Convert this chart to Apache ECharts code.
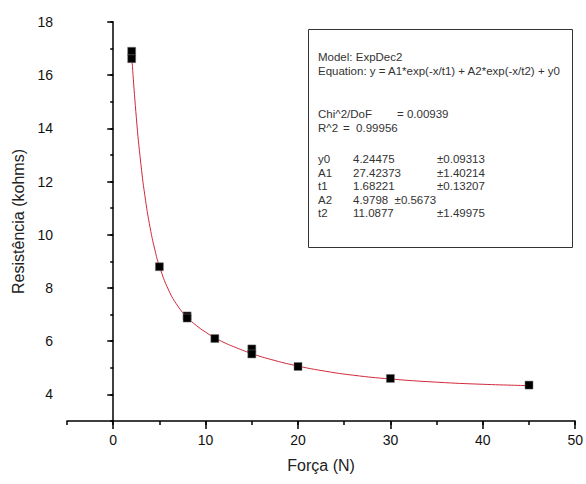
<!DOCTYPE html>
<html>
<head>
<meta charset="utf-8">
<script src="https://cdn.jsdelivr.net/npm/echarts@6/dist/echarts.min.js"></script>
<style>html,body{margin:0;padding:0;background:#fff}#c{width:586px;height:484px}</style>
</head>
<body>
<div id="c"></div>
<script>
// Measured data points (Força N, Resistência kohms)
const forceX = [2, 2, 5, 8, 8, 11, 15, 15, 20, 30, 45];
const resistY = [16.9, 16.62, 8.8, 6.95, 6.87, 6.1, 5.71, 5.52, 5.05, 4.6, 4.35];
// Fitted curve
const curveX = [2, 2.5, 3, 3.5, 4, 4.5, 5, 6, 7, 8, 9, 10, 11, 12, 13, 15, 17, 20, 23, 26, 30, 35, 40, 45];
const curveY = [16.75, 14.42, 12.65, 11.30, 10.26, 9.45, 8.82, 7.92, 7.32, 6.90, 6.59, 6.34, 6.13, 5.95, 5.80, 5.535, 5.32, 5.065, 4.87, 4.72, 4.58, 4.46, 4.38, 4.33];
// Tick labels
const xTicks = [0, 10, 20, 30, 40, 50];
const yTicks = [4, 6, 8, 10, 12, 14, 16, 18];
// Fit report text
const headerLines = ['Model: ExpDec2', 'Equation: y = A1*exp(-x/t1) + A2*exp(-x/t2) + y0'];
const statNames = ['Chi^2/DoF', 'R^2'];
const statValues = ['= 0.00939', '=  0.99956'];
const paramNames = ['y0', 'A1', 't1', 'A2', 't2'];
const paramValues = ['4.24475', '27.42373', '1.68221', '4.9798  ±0.5673', '11.0877'];
const paramErrors = ['±0.09313', '±1.40214', '±0.13207', '', '±1.49975'];

const FONT = 'Liberation Sans, Arial, sans-serif';
const chart = echarts.init(document.getElementById('c'), null, {renderer: 'svg'});

const txtStyle = {fontFamily: FONT, fontSize: 11.5, fill: '#333'};
const statX = [397, 343];
const graphics = [{
  type: 'rect', shape: {x: 308.5, y: 29.5, width: 264, height: 218},
  style: {fill: '#fff', stroke: '#333', lineWidth: 1}, z: 10
}];
headerLines.forEach((t, i) => graphics.push({type: 'text', x: 318, y: 51 + i * 14, style: Object.assign({text: t}, txtStyle), z: 11}));
statNames.forEach((t, i) => {
  graphics.push({type: 'text', x: 318, y: 108 + i * 13.5, style: Object.assign({text: t}, txtStyle), z: 11});
  graphics.push({type: 'text', x: statX[i], y: 108 + i * 13.5, style: Object.assign({text: statValues[i]}, txtStyle), z: 11});
});
paramNames.forEach((t, i) => {
  const y = 153 + i * 13.5;
  graphics.push({type: 'text', x: 318, y: y, style: Object.assign({text: t}, txtStyle), z: 11});
  graphics.push({type: 'text', x: 353, y: y, style: Object.assign({text: paramValues[i]}, txtStyle), z: 11});
  if (paramErrors[i]) graphics.push({type: 'text', x: 437, y: y, style: Object.assign({text: paramErrors[i]}, txtStyle), z: 11});
});

const axisLine = {show: true, lineStyle: {color: '#000', width: 1.5}};
chart.setOption({
  animation: false,
  backgroundColor: '#fff',
  grid: {left: 67, right: 8, top: 22, bottom: 63},
  xAxis: [{
    type: 'value', min: -5, max: 50,
    name: 'Força (N)', nameLocation: 'middle', nameGap: 36,
    nameTextStyle: {fontFamily: FONT, fontSize: 16, color: '#222'},
    axisLine: axisLine,
    axisTick: {show: true, length: 8, customValues: xTicks, lineStyle: {color: '#000', width: 1.5}},
    axisLabel: {customValues: xTicks, fontFamily: FONT, fontSize: 14, color: '#111', margin: 12},
    splitLine: {show: false}
  }, {
    type: 'value', min: -5, max: 50, interval: 5, position: 'bottom', gridIndex: 0,
    axisLine: {show: false}, axisLabel: {show: false},
    axisTick: {show: true, length: 4, lineStyle: {color: '#000', width: 1.5}},
    splitLine: {show: false}
  }],
  yAxis: [{
    type: 'value', min: 3, max: 18,
    name: 'Resistência (kohms)', nameLocation: 'middle', nameGap: 36,
    nameTextStyle: {fontFamily: FONT, fontSize: 16, color: '#222'},
    axisLine: axisLine,
    axisTick: {show: true, length: 6, customValues: yTicks, lineStyle: {color: '#000', width: 1.5}},
    axisLabel: {customValues: yTicks, fontFamily: FONT, fontSize: 14, color: '#111', margin: 14},
    splitLine: {show: false}
  }, {
    type: 'value', min: 3, max: 18, interval: 1, position: 'left',
    axisLine: {show: false}, axisLabel: {show: false},
    axisTick: {show: true, length: 3, lineStyle: {color: '#000', width: 1.5}},
    splitLine: {show: false}
  }],
  series: [{
    type: 'line', xAxisIndex: 0, yAxisIndex: 0,
    data: curveX.map((x, i) => [x, curveY[i]]),
    smooth: true, showSymbol: false, symbol: 'none',
    lineStyle: {color: '#d0283a', width: 1}, z: 2
  }, {
    type: 'scatter', xAxisIndex: 0, yAxisIndex: 0,
    data: forceX.map((x, i) => [x, resistY[i]]),
    symbol: 'rect', symbolSize: [8, 8],
    itemStyle: {color: '#000', borderColor: '#777', borderWidth: 0.5, opacity: 1}, z: 3
  }],
  graphic: graphics
});
</script>
</body>
</html>
